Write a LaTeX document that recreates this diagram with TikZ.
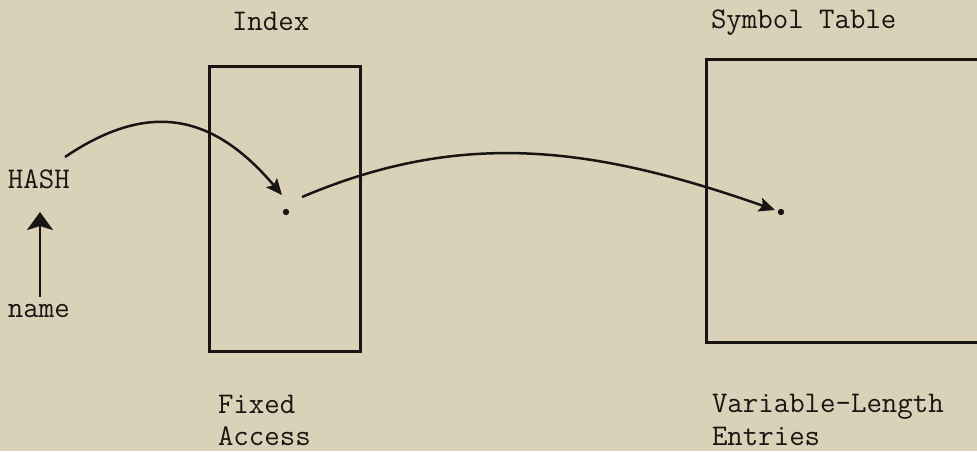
\documentclass[tikz,border=0pt]{standalone}
\usetikzlibrary{arrows.meta}
\definecolor{paper}{RGB}{217,209,184}
\definecolor{ink}{RGB}{24,21,18}
\begin{document}
\begin{tikzpicture}[x=1pt,y=-1pt,
  every node/.style={inner sep=0pt,outer sep=0pt},
  lbl/.style={anchor=base west,text=ink,font=\fontsize{30}{32}\selectfont\ttfamily},
  frame/.style={draw=ink,line width=3pt},
  link/.style={draw=ink,line width=2.5pt,-{Stealth[length=16pt,width=14pt,inset=3pt]}},
  push/.style={draw=ink,line width=2.8pt,-{Stealth[length=18pt,width=26pt,inset=4pt]}},
  spot/.style={fill=ink}]
  % paper and page size
  \fill[paper] (0,0) rectangle (977,451);
  \useasboundingbox (0,0) rectangle (977,451);

  % captions
  \node[lbl] (idx) at (232,30) {Index};
  \node[lbl] (sym) at (711,28) {Symbol Table};
  \node[lbl] (hash) at (8,188) {HASH};
  \node[lbl] (name) at (8,317) {name};
  \node[lbl] (fixed) at (218,413) {Fixed};
  \node[lbl] (access) at (218,445) {Access};
  \node[lbl] (varlen) at (712,412) {Variable-Length};
  \node[lbl] (entries) at (712,445) {Entries};

  % the index table
  \node[frame,minimum width=151pt,minimum height=285pt] (index) at (284.5,208.5) {};
  % the symbol table runs off to the right
  \draw[frame] (985,59) -- (706,59) -- (706,342) -- (985,342);

  % entry points inside the tables
  \coordinate (slot) at (286,212);
  \coordinate (entry) at (781,212);
  \fill[spot] (slot) circle (3.2pt);
  \fill[spot] (entry) circle (3.2pt);

  % name is hashed
  \coordinate (nametop) at (40,297);
  \coordinate (hashfoot) at (40,212);
  \draw[push] (nametop) -- (hashfoot);

  % hash selects an index slot
  \coordinate (hashout) at (65,157);
  \coordinate (slotin) at (282,195);
  \draw[link] (hashout) .. controls (145,103) and (210,110) .. (slotin);

  % the slot points into the symbol table
  \coordinate (slotout) at (302,197);
  \coordinate (entryin) at (775,210);
  \draw[link] (slotout) .. controls (460,130) and (590,145) .. (entryin);
\end{tikzpicture}
\end{document}
